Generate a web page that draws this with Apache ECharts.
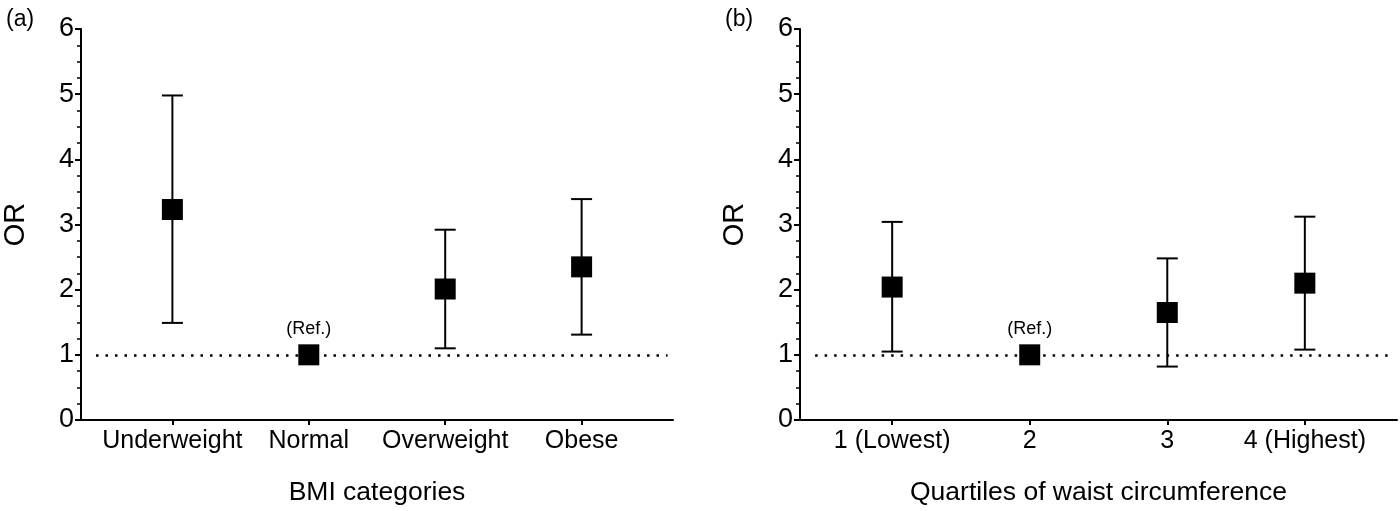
<!DOCTYPE html>
<html>
<head>
<meta charset="utf-8">
<script src="https://cdn.jsdelivr.net/npm/echarts@6/dist/echarts.min.js"></script>
<style>
html,body{margin:0;padding:0;background:#fff;}
#chart{width:1400px;height:511px;}
</style>
</head>
<body>
<div id="chart"></div>
<script>
// ---- data ----
const panelA_categories = ['Underweight', 'Normal', 'Overweight', 'Obese'];
const panelA_or    = [3.23, 1.00, 2.01, 2.35];
const panelA_lower = [1.49, 1.00, 1.10, 1.31];
const panelA_upper = [4.98, 1.00, 2.92, 3.39];

const panelB_categories = ['1 (Lowest)', '2', '3', '4 (Highest)'];
const panelB_or    = [2.04, 1.00, 1.65, 2.10];
const panelB_lower = [1.05, 1.00, 0.82, 1.08];
const panelB_upper = [3.04, 1.00, 2.48, 3.12];

const refIndex = 1;           // reference category (OR = 1)
const refValue = 1;
const yMin = 0, yMax = 6, yInterval = 1;
const catPositions = [1, 2, 3, 4];
const xMin = 0.33, xMax = 4.67;
const refLineStart = 0.44, refLineEnd = 4.63;

const FONT = '"Liberation Sans", Arial, Helvetica, sans-serif';

function errData(orArr, lo, hi) {
  return catPositions.map((x, i) => [x, lo[i], hi[i]]);
}
function pointData(orArr) {
  return catPositions.map((x, i) => {
    const item = { value: [x, orArr[i]] };
    if (i === refIndex) {
      item.label = { show: true, formatter: '(Ref.)', position: 'top', distance: 6,
        color: '#000', fontSize: 18, fontFamily: FONT };
    }
    return item;
  });
}

function renderErr(params, api) {
  const x = api.value(0), lo = api.value(1), hi = api.value(2);
  if (lo === hi) return null;
  const p1 = api.coord([x, lo]);
  const p2 = api.coord([x, hi]);
  const c = 10.5;
  const st = { stroke: '#000', lineWidth: 2 };
  return {
    type: 'group',
    children: [
      { type: 'line', shape: { x1: p1[0], y1: p1[1], x2: p2[0], y2: p2[1] }, style: st },
      { type: 'line', shape: { x1: p1[0] - c, y1: p1[1], x2: p1[0] + c, y2: p1[1] }, style: st },
      { type: 'line', shape: { x1: p2[0] - c, y1: p2[1], x2: p2[0] + c, y2: p2[1] }, style: st }
    ]
  };
}

function xAxisCfg(gridIndex, cats, name) {
  return {
    type: 'value', gridIndex, min: xMin, max: xMax,
    name, nameLocation: 'middle', nameGap: 59,
    nameTextStyle: { color: '#000', fontSize: 26.5, fontFamily: FONT },
    axisLine: { show: true, onZero: false, lineStyle: { color: '#000', width: 2 } },
    axisTick: { show: true, customValues: catPositions, length: 5, lineStyle: { color: '#000', width: 2 } },
    axisLabel: { show: true, customValues: catPositions, margin: 9, color: '#000', fontSize: 25, fontFamily: FONT,
      formatter: v => { const i = catPositions.indexOf(Math.round(v)); return i >= 0 ? cats[i] : ''; } },
    splitLine: { show: false }
  };
}
function yAxisCfg(gridIndex) {
  return {
    type: 'value', gridIndex, min: yMin, max: yMax, interval: yInterval,
    name: 'OR', nameLocation: 'middle', nameGap: 51,
    nameTextStyle: { color: '#000', fontSize: 29, fontFamily: FONT },
    axisLine: { show: true, lineStyle: { color: '#000', width: 2 } },
    axisTick: { show: true, length: 6, lineStyle: { color: '#000', width: 2 } },
    minorTick: { show: true, splitNumber: 4, length: 4, lineStyle: { color: '#000', width: 1.5 } },
    axisLabel: { margin: 7, color: '#000', fontSize: 27, fontFamily: FONT },
    splitLine: { show: false }, minorSplitLine: { show: false }
  };
}

function seriesFor(idx, orArr, lo, hi) {
  return [
    { type: 'custom', xAxisIndex: idx, yAxisIndex: idx, renderItem: renderErr,
      encode: { x: 0, y: [1, 2] }, data: errData(orArr, lo, hi), z: 2, silent: true },
    { type: 'scatter', xAxisIndex: idx, yAxisIndex: idx, symbol: 'rect', symbolSize: 21,
      itemStyle: { color: '#000', opacity: 1 }, data: pointData(orArr), z: 3, silent: true,
      markLine: { silent: true, symbol: 'none', label: { show: false }, animation: false,
        lineStyle: { color: '#000', width: 2.5, type: [2.5, 7], opacity: 1 },
        data: [[{ coord: [refLineStart, refValue] }, { coord: [refLineEnd, refValue] }]] } }
  ];
}

const chart = echarts.init(document.getElementById('chart'));
chart.setOption({
  animation: false,
  backgroundColor: '#fff',
  title: [
    { text: '(a)', left: 1, top: 3, textStyle: { color: '#000', fontSize: 23, fontWeight: 'normal', fontFamily: FONT } },
    { text: '(b)', left: 720, top: 3, textStyle: { color: '#000', fontSize: 23, fontWeight: 'normal', fontFamily: FONT } }
  ],
  grid: [
    { left: 78, right: 727, top: 29, bottom: 85 },
    { left: 800, right: 3, top: 29, bottom: 85 }
  ],
  xAxis: [xAxisCfg(0, panelA_categories, 'BMI categories'), xAxisCfg(1, panelB_categories, 'Quartiles of waist circumference')],
  yAxis: [yAxisCfg(0), yAxisCfg(1)],
  series: [].concat(
    seriesFor(0, panelA_or, panelA_lower, panelA_upper),
    seriesFor(1, panelB_or, panelB_lower, panelB_upper)
  )
});
</script>
</body>
</html>
